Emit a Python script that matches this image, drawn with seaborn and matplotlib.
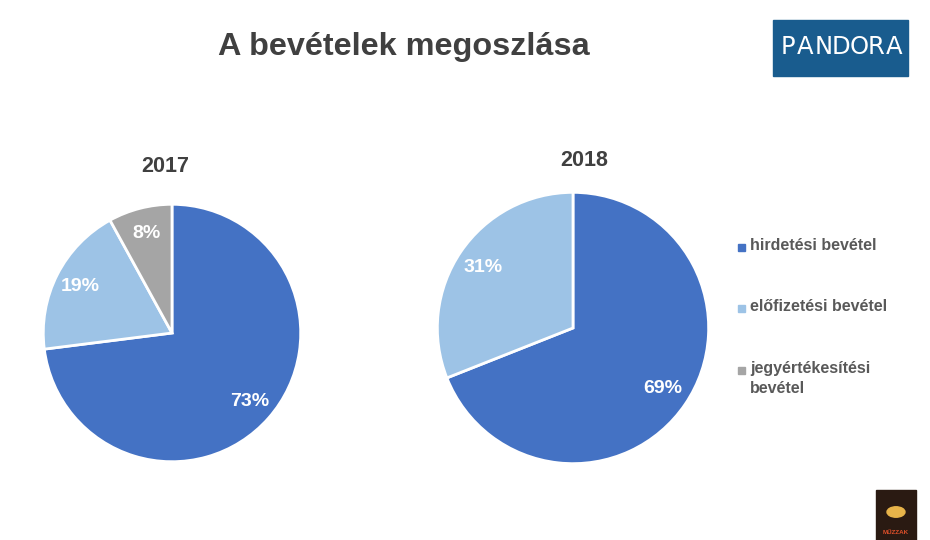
import matplotlib
matplotlib.use("Agg")
import matplotlib.pyplot as plt
import seaborn as sns
from matplotlib.patches import Rectangle, Circle

sns.set_theme(style="white")
plt.rcParams['font.family'] = ['Liberation Sans', 'DejaVu Sans']

# Data
categories = ["hirdetési bevétel", "előfizetési bevétel", "jegyértékesítési\nbevétel"]
values_2017 = [73, 19, 8]
values_2018 = [69, 31]
years = ["2017", "2018"]
colors = ["#4472C4", "#9DC3E6", "#A5A5A5"]

W, H = 930, 540
fig = plt.figure(figsize=(W / 100, H / 100), dpi=100)
fig.patch.set_facecolor("white")

def px_axes(cx, cy, r):
    return fig.add_axes([(cx - r) / W, (H - cy - r) / H, 2 * r / W, 2 * r / H])

def draw_pie(ax, vals, cols):
    wedges, texts, autotexts = ax.pie(
        vals, colors=cols, startangle=90, counterclock=False,
        autopct=lambda p: f"{p:.0f}%", pctdistance=0.8,
        wedgeprops=dict(edgecolor="white", linewidth=2),
        textprops=dict(color="white", fontsize=14, fontweight="bold"))
    ax.set_xlim(-1.01, 1.01)
    ax.set_ylim(-1.01, 1.01)
    ax.set_aspect("equal")
    ax.axis("off")
    return wedges

ax1 = px_axes(172, 333, 130)
draw_pie(ax1, values_2017, colors[:3])
ax2 = px_axes(573, 328, 137)
draw_pie(ax2, values_2018, colors[:2])

# Titles
fig.text(404 / W, 1 - 47 / H, "A bevételek megoszlása", ha="center", va="center",
         fontsize=23.3, fontweight="bold", color="#404040")
fig.text(165 / W, 1 - 167 / H, years[0], ha="center", va="center",
         fontsize=15.5, fontweight="bold", color="#404040")
fig.text(584 / W, 1 - 160 / H, years[1], ha="center", va="center",
         fontsize=15.5, fontweight="bold", color="#404040")

# Legend (manual placement)
leg_y = [247, 308, 370]
for cat, col, y in zip(categories, colors, leg_y):
    fig.patches.append(Rectangle((738 / W, 1 - (y + 3.5) / H), 7 / W, 7 / H,
                                 transform=fig.transFigure, color=col))
    fig.text(750 / W, 1 - (y - 9) / H, cat, ha="left", va="top",
             fontsize=11.5, fontweight="bold", color="#595959", linespacing=1.4)

# Pandora logo
fig.patches.append(Rectangle((773 / W, 1 - 76 / H), 135 / W, 56 / H,
                             transform=fig.transFigure, color="#195C8E"))
logo = "PANDORA"
x0, x1 = 779, 903
step = (x1 - x0) / len(logo)
for i, ch in enumerate(logo):
    fig.text((x0 + step * (i + 0.5)) / W, 1 - 47 / H, ch, ha="center", va="center",
             fontsize=17.5, color="white", fontfamily="DejaVu Sans")

# Small corner icon
fig.patches.append(Rectangle((876 / W, 0), 40 / W, 50 / H,
                             transform=fig.transFigure, color="#2A1A12"))
fig.patches.append(Circle((896 / W, 1 - 512 / H), 9 / W,
                          transform=fig.transFigure, color="#E8B44A"))
fig.text(896 / W, 1 - 532 / H, "MŰZZAK", ha="center", va="center",
         fontsize=4.5, fontweight="bold", color="#E0502A")

fig.savefig("out.png", dpi=100, facecolor="white")
